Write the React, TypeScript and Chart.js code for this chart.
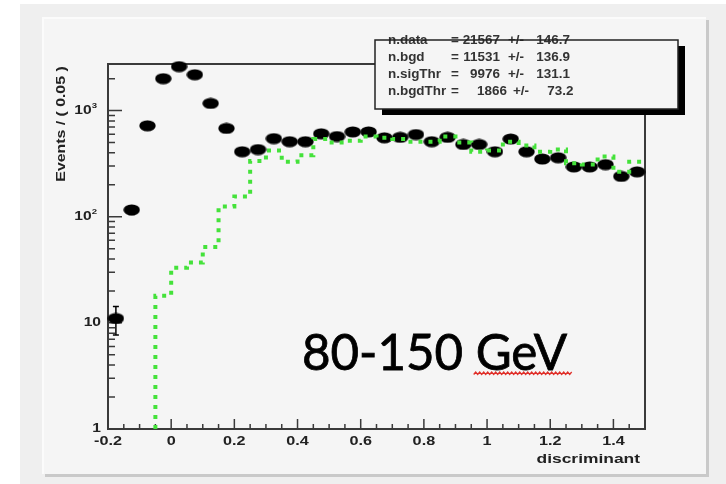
import React, { useEffect, useRef } from 'react';
import { Chart, registerables } from 'chart.js';
Chart.register(...registerables);

// ---- data ----
const binCenters = [-0.175, -0.125, -0.075, -0.025, 0.025, 0.075, 0.125, 0.175, 0.225, 0.275, 0.325, 0.375, 0.425, 0.475, 0.525, 0.575, 0.625, 0.675, 0.725, 0.775, 0.825, 0.875, 0.925, 0.975, 1.025, 1.075, 1.125, 1.175, 1.225, 1.275, 1.325, 1.375, 1.425, 1.475];
const dataCounts = [11, 116, 720, 2000, 2600, 2180, 1170, 680, 410, 430, 545, 510, 510, 605, 570, 630, 630, 555, 560, 595, 510, 560, 480, 480, 410, 540, 410, 350, 360, 295, 295, 310, 240, 265];
const dataErrors = [3.3, 11, 27, 45, 51, 47, 34, 26, 20, 21, 23, 23, 23, 25, 24, 25, 25, 24, 24, 24, 23, 24, 22, 22, 20, 23, 20, 19, 19, 17, 17, 18, 15, 16];
const bgdCounts: (number | null)[] = [null, null, null, 18, 33, 37, 52, 125, 155, 335, 420, 330, 380, 540, 500, 520, 570, 555, 540, 510, 510, 570, 500, 410, 420, 510, 470, 410, 430, 320, 310, 370, 265, 330];
const binWidth = 0.05;
const xMin = -0.2;
const xMax = 1.5;
const yMin = 1;
const yMax = 2750;
const xTickValues = [-0.2, 0, 0.2, 0.4, 0.6, 0.8, 1, 1.2, 1.4];
const xTickLabels = ['-0.2', '0', '0.2', '0.4', '0.6', '0.8', '1', '1.2', '1.4'];
const yTickValues = [1, 10, 100, 1000];
const yTickBase = ['1', '10', '10', '10'];
const yTickExp = ['', '', '2', '3'];
const xTitle = 'discriminant';
const yTitle = 'Events / ( 0.05 )';
const statsLabels = ['n.data', 'n.bgd', 'n.sigThr', 'n.bgdThr'];
const statsValues = ['21567', '11531', '9976', '1866'];
const statsErrors = ['146.7', '136.9', '131.1', '73.2'];
const bigLabel = '80-150';
const bigUnit = 'GeV';

const FONT = '"Liberation Sans", Arial, sans-serif';

function sText(ctx: CanvasRenderingContext2D, text: string, x: number, y: number, size: number, sx: number, align: string, color: string, bold = true) {
  ctx.save();
  ctx.font = `${bold ? 'bold ' : ''}${size}px ${FONT}`;
  ctx.fillStyle = color;
  ctx.textBaseline = 'middle';
  ctx.textAlign = 'left';
  const w = ctx.measureText(text).width * sx;
  const left = align === 'right' ? x - w : align === 'center' ? x - w / 2 : x;
  ctx.translate(left, y);
  ctx.scale(sx, 1);
  ctx.fillText(text, 0, 0);
  ctx.restore();
  return w;
}

const decorPlugin = {
  id: 'decor',
  beforeDraw(chart: any) {
    const ctx: CanvasRenderingContext2D = chart.ctx;
    const W = chart.width, H = chart.height;
    ctx.save();
    ctx.fillStyle = '#ffffff';
    ctx.fillRect(0, 0, W, H);
    ctx.fillStyle = '#efefef';
    ctx.fillRect(20, 4, W - 20, H - 4);
    ctx.fillStyle = '#c9c9c9';
    ctx.fillRect(45, 20, 664, 457);
    ctx.fillStyle = '#f5f5f5';
    ctx.fillRect(42, 17, 664, 457);
    ctx.strokeStyle = '#fbfbfb';
    ctx.lineWidth = 2;
    ctx.beginPath();
    ctx.moveTo(43, 474);
    ctx.lineTo(43, 18);
    ctx.lineTo(706, 18);
    ctx.stroke();
    ctx.restore();
  },
  beforeDatasetsDraw(chart: any) {
    const ctx: CanvasRenderingContext2D = chart.ctx;
    const { left, right, top, bottom } = chart.chartArea;
    const xs = chart.scales.x, ys = chart.scales.y;
    ctx.save();
    ctx.strokeStyle = '#3a3a3a';
    ctx.lineWidth = 2;
    ctx.strokeRect(left, top, right - left, bottom - top);
    ctx.lineWidth = 1.5;
    ctx.beginPath();
    for (let v = xMin; v <= xMax + 1e-9; v += binWidth) {
      const px = xs.getPixelForValue(v);
      ctx.moveTo(px, bottom);
      ctx.lineTo(px, bottom - 5);
    }
    xTickValues.forEach((v) => {
      const px = xs.getPixelForValue(v);
      ctx.moveTo(px, bottom);
      ctx.lineTo(px, bottom - 10);
    });
    for (let d = 1; d <= yMax; d *= 10) {
      for (let m = 2; m <= 9; m++) {
        const v = d * m;
        if (v > yMax) break;
        const py = ys.getPixelForValue(v);
        ctx.moveTo(left, py);
        ctx.lineTo(left + 7, py);
      }
    }
    yTickValues.forEach((v) => {
      const py = ys.getPixelForValue(v);
      ctx.moveTo(left, py);
      ctx.lineTo(left + 14, py);
    });
    ctx.stroke();
    xTickValues.forEach((v, i) => {
      sText(ctx, xTickLabels[i], xs.getPixelForValue(v), bottom + 13, 12, 1.35, 'center', '#222');
    });
    yTickValues.forEach((v, i) => {
      const py = ys.getPixelForValue(v);
      if (yTickExp[i]) {
        const we = sText(ctx, yTickExp[i], 97, py - 5, 8, 1.2, 'right', '#222');
        sText(ctx, yTickBase[i], 97 - we, py, 12, 1.3, 'right', '#222');
      } else {
        sText(ctx, yTickBase[i], 101, py, 12, 1.3, 'right', '#222');
      }
    });
    sText(ctx, xTitle, 640, bottom + 31, 12, 1.45, 'right', '#222');
    ctx.save();
    ctx.translate(62, 124);
    ctx.rotate(-Math.PI / 2);
    sText(ctx, yTitle, 0, 0, 12, 1.32, 'center', '#222');
    ctx.restore();
    ctx.strokeStyle = '#000';
    ctx.lineWidth = 1.5;
    ctx.beginPath();
    binCenters.forEach((c, i) => {
      const px = xs.getPixelForValue(c);
      const y1 = ys.getPixelForValue(Math.max(dataCounts[i] - dataErrors[i], yMin));
      const y2 = ys.getPixelForValue(dataCounts[i] + dataErrors[i]);
      ctx.moveTo(px, y1);
      ctx.lineTo(px, y2);
      ctx.moveTo(px - 3, y1);
      ctx.lineTo(px + 3, y1);
      ctx.moveTo(px - 3, y2);
      ctx.lineTo(px + 3, y2);
    });
    ctx.stroke();
    ctx.restore();
  },
  afterDraw(chart: any) {
    const ctx: CanvasRenderingContext2D = chart.ctx;
    ctx.save();
    const bx = 375, by = 40, bw = 303, bh = 69;
    ctx.fillStyle = '#000';
    ctx.fillRect(bx + 7, by + 6, bw, bh);
    ctx.fillStyle = '#f5f5f5';
    ctx.fillRect(bx, by, bw, bh);
    const rows = [41, 58, 74.5, 91.5];
    statsLabels.forEach((lab, i) => {
      const y = rows[i];
      const off = i === 3 ? 7 : 0;
      sText(ctx, lab, 388, y, 12, 1.12, 'left', '#333');
      sText(ctx, '=', 451, y, 12, 1.12, 'left', '#333');
      sText(ctx, statsValues[i], 500 + off, y, 12, 1.12, 'right', '#333');
      sText(ctx, '+/-', 508 + off * 0.7, y, 12, 1.12, 'left', '#333');
      sText(ctx, statsErrors[i], 570 + off * 0.5, y, 12, 1.12, 'right', '#333');
    });
    ctx.strokeStyle = '#222';
    ctx.lineWidth = 1.5;
    ctx.strokeRect(bx, by, bw, bh);
    // big label
    ctx.font = `51px Lato, "Open Sans", sans-serif`;
    ctx.fillStyle = '#000';
    ctx.textBaseline = 'alphabetic';
    ctx.textAlign = 'left';
    const full = bigLabel + ' ' + bigUnit;
    const fw = ctx.measureText(full).width;
    const s = 265 / fw;
    const pre = ctx.measureText(bigLabel + ' ').width * s;
    const uw = ctx.measureText(bigUnit).width * s;
    ctx.save();
    ctx.translate(302, 370);
    ctx.scale(s, 1);
    ctx.strokeStyle = '#000';
    ctx.lineWidth = 0.8;
    ctx.fillText(full, 0, 0);
    ctx.strokeText(full, 0, 0);
    ctx.restore();
    ctx.strokeStyle = '#e0302a';
    ctx.lineWidth = 1.3;
    ctx.beginPath();
    const sx0 = 302 + pre - 2, sx1 = 302 + pre + uw + 6;
    let up = true;
    ctx.moveTo(sx0, 374.5);
    for (let x = sx0 + 2; x <= sx1; x += 2) {
      ctx.lineTo(x, up ? 372 : 374.5);
      up = !up;
    }
    ctx.stroke();
    ctx.restore();
  },
};

export default function App() {
  const ref = useRef<HTMLCanvasElement | null>(null);
  useEffect(() => {
    document.body.style.margin = '0';
    const marker = document.createElement('canvas');
    marker.width = 17;
    marker.height = 12;
    const mc = marker.getContext('2d')!;
    mc.fillStyle = '#000';
    mc.beginPath();
    mc.ellipse(8.5, 6, 8.2, 5.6, 0, 0, Math.PI * 2);
    mc.fill();

    const bgdPoints: { x: number; y: number }[] = [];
    let first = true;
    let last = 0;
    binCenters.forEach((c, i) => {
      const v = bgdCounts[i];
      if (v == null) return;
      if (first) {
        bgdPoints.push({ x: c - binWidth / 2, y: yMin });
        first = false;
      }
      bgdPoints.push({ x: c - binWidth / 2, y: v });
      last = v;
    });
    bgdPoints.push({ x: xMax, y: last });

    const chart = new Chart(ref.current!, {
      type: 'scatter',
      data: {
        datasets: [
          {
            type: 'line',
            label: 'bgd',
            data: bgdPoints,
            stepped: 'before',
            borderColor: '#44e23a',
            borderWidth: 4,
            borderDash: [4, 6],
            pointRadius: 0,
            fill: false,
            order: 0,
          } as any,
          {
            type: 'scatter',
            label: 'data',
            data: binCenters.map((c, i) => ({ x: c, y: dataCounts[i] })),
            pointStyle: marker as any,
            pointRadius: 6,
            order: 1,
            clip: false,
          } as any,
        ],
      },
      options: {
        animation: false,
        responsive: false,
        devicePixelRatio: 1,
        layout: { padding: { left: 108, right: 81, top: 64, bottom: 55 } },
        plugins: { legend: { display: false }, tooltip: { enabled: false } },
        scales: {
          x: { type: 'linear', min: xMin, max: xMax, display: false },
          y: { type: 'logarithmic', min: yMin, max: yMax, display: false },
        },
      },
      plugins: [decorPlugin],
    });
    return () => chart.destroy();
  }, []);
  return (
    <div style={{ position: 'fixed', left: 0, top: 0, width: 726, height: 484 }}>
      <canvas ref={ref} width={726} height={484} style={{ width: 726, height: 484, display: 'block' }} />
    </div>
  );
}
